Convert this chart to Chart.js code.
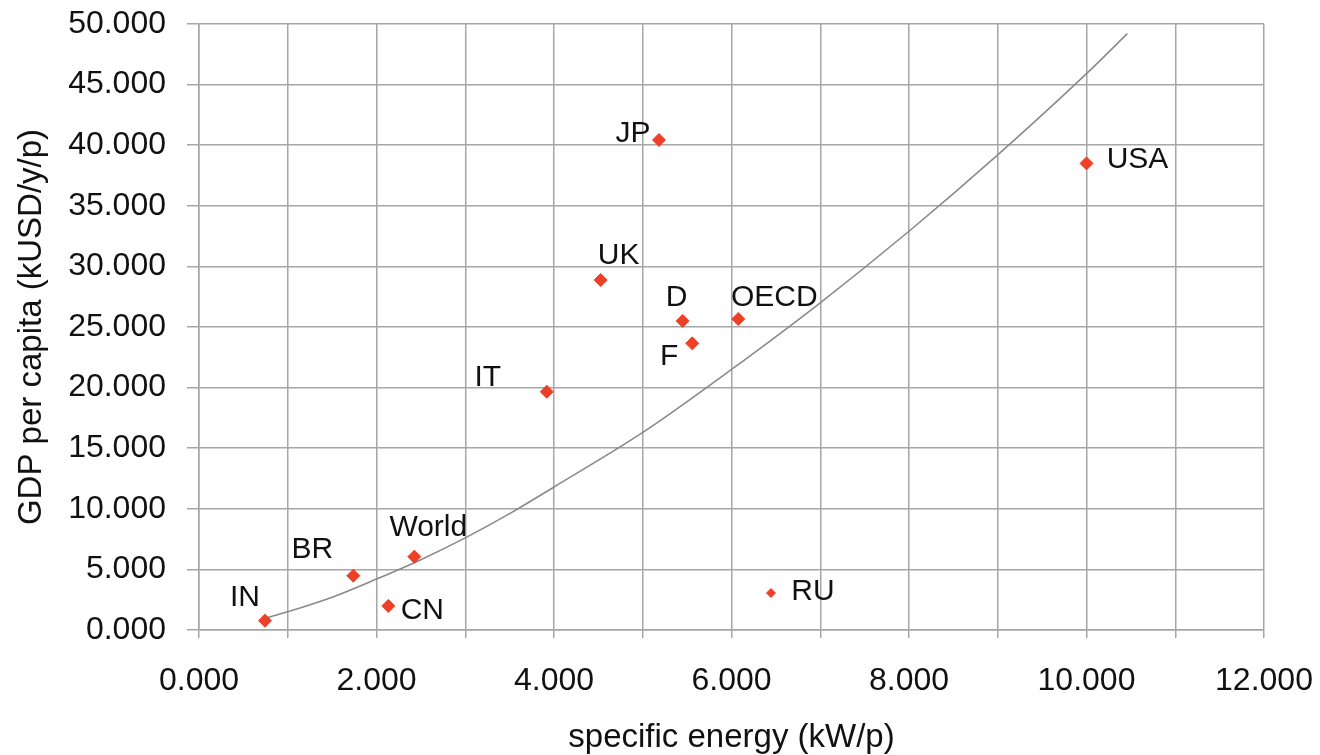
<!DOCTYPE html>
<html><head><meta charset="utf-8">
<script src="https://cdn.jsdelivr.net/npm/chart.js@4/dist/chart.umd.min.js"></script>
<style>html,body{margin:0;padding:0;background:#fff;overflow:hidden}#wrap{width:1320px;height:755px;position:relative}</style>
</head><body><div id="wrap"><canvas id="c" width="1320" height="755"></canvas></div>
<script>
// ---- data ----
const countries = ['IN','BR','World','CN','JP','UK','D','OECD','F','IT','RU','USA'];
const energy = [0.744,1.739,2.426,2.133,5.183,4.526,5.450,6.076,5.558,3.918,6.445,10.0];
const gdp = [0.77,4.48,6.05,1.99,40.43,28.88,25.5,25.66,23.65,19.66,3.05,38.5];
const trendEnergy = [0.75,1,1.5,2,2.5,3,3.5,4,5,6,7,8,9,10,10.46];
const trendGdp = [0.98,1.5,2.7,4.2,5.8,7.6,9.6,11.8,16.3,21.5,27.0,32.9,39.2,45.9,49.2];
const xTickLabels = ['0.000','2.000','4.000','6.000','8.000','10.000','12.000'];
const yTickLabels = ['0.000','5.000','10.000','15.000','20.000','25.000','30.000','35.000','40.000','45.000','50.000'];
const xTitle = 'specific energy (kW/p)';
const yTitle = 'GDP per capita (kUSD/y/p)';

// ---- styling ----
const FONT = "'Liberation Sans', Arial, sans-serif";
const labelOffsets = {IN:[-20,-23],BR:[-41,-26],World:[14,-29],CN:[34,5],JP:[-26,-6.5],UK:[18,-24],D:[-6,-23],OECD:[36,-21],F:[-23,13],IT:[-59,-14],RU:[42,-1],USA:[51,-4]};
const GRID = '#a6a6a6';

const pointLabels = {
  id: 'pointLabels',
  afterDatasetsDraw(chart) {
    const ctx = chart.ctx, xs = chart.scales.x, ys = chart.scales.y;
    ctx.save();
    ctx.font = '30px ' + FONT;
    ctx.fillStyle = '#111';
    ctx.textAlign = 'center';
    ctx.textBaseline = 'middle';
    countries.forEach((name, i) => {
      const off = labelOffsets[name] || [0,0];
      ctx.fillText(name, xs.getPixelForValue(energy[i]) + off[0], ys.getPixelForValue(gdp[i]) + off[1]);
    });
    ctx.restore();
  }
};

Chart.defaults.font.family = FONT;
Chart.defaults.color = '#111';

new Chart(document.getElementById('c'), {
  type: 'scatter',
  data: {
    datasets: [
      {
        label: 'countries',
        data: countries.map((n, i) => ({x: energy[i], y: gdp[i]})),
        pointStyle: 'rectRot',
        pointRadius: c => countries[c.dataIndex] === 'RU' ? 4.5 : 6.5,
        pointBackgroundColor: '#ee3f27',
        pointBorderColor: '#ee3f27',
        pointBorderWidth: 1,
        order: 0
      },
      {
        label: 'trend',
        data: trendEnergy.map((v, i) => ({x: v, y: trendGdp[i]})),
        showLine: true,
        borderColor: '#8a8a8a',
        borderWidth: 1.6,
        pointRadius: 0,
        cubicInterpolationMode: 'monotone',
        fill: false,
        order: 1
      }
    ]
  },
  options: {
    responsive: false,
    devicePixelRatio: 1,
    animation: false,
    layout: { padding: { top: 24, right: 56, bottom: 0, left: 0 } },
    plugins: { legend: { display: false }, tooltip: { enabled: false } },
    scales: {
      x: {
        type: 'linear', min: 0, max: 12,
        afterFit: s => { s.height = 125; s.paddingLeft = 0; s.paddingRight = 0; },
        ticks: {
          stepSize: 1, autoSkip: false, maxRotation: 0, padding: 24,
          font: { size: 32 }, color: '#111',
          callback: v => (Number.isInteger(v) && v % 2 === 0) ? xTickLabels[v / 2] : ''
        },
        grid: { color: GRID, lineWidth: 1.5, tickLength: 8, drawTicks: true },
        border: { color: GRID, width: 1.5 },
        title: { display: true, text: xTitle, font: { size: 33 }, color: '#111', padding: { top: 0, bottom: -3 } }
      },
      y: {
        type: 'linear', min: 0, max: 50,
        afterFit: s => { s.width = 199; s.paddingTop = 0; s.paddingBottom = 0; },
        ticks: {
          stepSize: 5, autoSkip: false, padding: 21,
          font: { size: 32 }, color: '#111',
          callback: v => yTickLabels[Math.round(v / 5)]
        },
        grid: { color: GRID, lineWidth: 1.5, tickLength: 12 },
        border: { color: GRID, width: 1.5 },
        title: { display: true, text: yTitle, font: { size: 33 }, color: '#111', padding: { top: 12, bottom: 0 } }
      }
    }
  },
  plugins: [pointLabels]
});
</script></body></html>
